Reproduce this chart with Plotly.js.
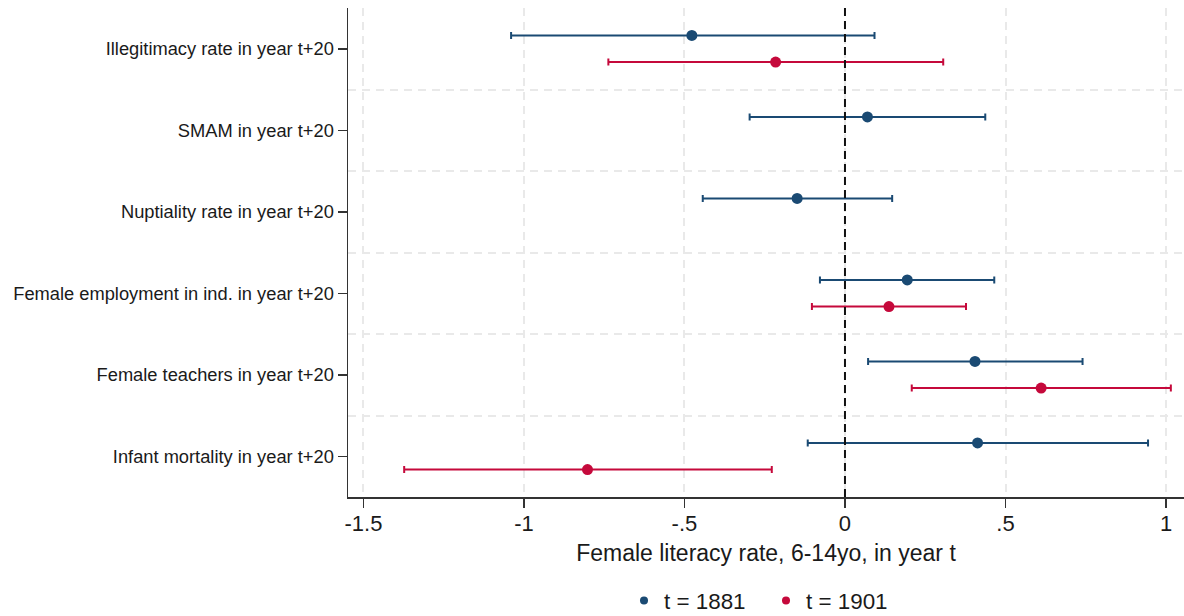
<!DOCTYPE html>
<html>
<head>
<meta charset="utf-8">
<script src="https://cdn.plot.ly/plotly-3.0.1.min.js"></script>
<style>html,body{margin:0;padding:0;background:#fff;}#chart{width:1184px;height:616px;}</style>
</head>
<body>
<div id="chart"></div>
<script>
// Outcome labels (top to bottom)
const outcomes = [
  "Illegitimacy rate in year t+20",
  "SMAM in year t+20",
  "Nuptiality rate in year t+20",
  "Female employment in ind. in year t+20",
  "Female teachers in year t+20",
  "Infant mortality in year t+20"
];
// t = 1881 estimates and 95% CI
const est1881 = [-0.477, 0.070, -0.149, 0.194, 0.405, 0.413];
const lo1881  = [-1.040, -0.297, -0.443, -0.078, 0.072, -0.116];
const hi1881  = [0.092, 0.437, 0.147, 0.465, 0.740, 0.944];
// t = 1901 estimates and 95% CI
const est1901 = [-0.216, null, null, 0.137, 0.611, -0.802];
const lo1901  = [-0.737, null, null, -0.103, 0.208, -1.373];
const hi1901  = [0.306, null, null, 0.377, 1.015, -0.228];
const xTickVals = [-1.5, -1, -0.5, 0, 0.5, 1];
const xTickText = ["-1.5", "-1", "-.5", "0", ".5", "1"];
const seriesNames = ["t = 1881", "t = 1901"];

const blue = "#1a4a73";
const red = "#c5093b";
const off = 0.163;
const rows = outcomes.map((_, i) => i);

function errTrace(est, lo, hi, dy, color, name) {
  return {
    type: "scatter", mode: "markers", name: name, showlegend: false,
    x: est, y: rows.map(r => r + dy),
    marker: {color: color, size: 11},
    error_x: {type: "data", symmetric: false,
      array: est.map((v, i) => v === null ? null : hi[i] - v),
      arrayminus: est.map((v, i) => v === null ? null : v - lo[i]),
      color: color, thickness: 2, width: 3.5},
    hoverinfo: "skip", cliponaxis: false
  };
}
function legTrace(color, name) {
  return {type: "scatter", mode: "markers", name: name, x: [null], y: [null],
    marker: {color: color, size: 8}, hoverinfo: "skip"};
}

const data = [
  errTrace(est1881, lo1881, hi1881, -off, blue, seriesNames[0]),
  errTrace(est1901, lo1901, hi1901, off, red, seriesNames[1]),
  legTrace(blue, seriesNames[0]),
  legTrace(red, seriesNames[1])
];

const fontFam = "Liberation Sans, Arial, sans-serif";
const gridc = "#e9e9e9";
const layout = {
  width: 1184, height: 616,
  margin: {l: 348, r: 0, t: 8, b: 119},
  paper_bgcolor: "#fff", plot_bgcolor: "#fff",
  font: {family: fontFam, color: "#1a1a1a"},
  showlegend: true,
  legend: {orientation: "h", xref: "paper", x: 0.5, xanchor: "center",
    yref: "container", y: 0.0244, yanchor: "middle",
    entrywidth: 97, entrywidthmode: "pixels",
    font: {size: 22.4, family: fontFam, color: "#1a1a1a"}, itemclick: false},
  xaxis: {
    range: [-1.548, 1.056], tickmode: "array", tickvals: xTickVals, ticktext: xTickText,
    showgrid: true, gridcolor: gridc, gridwidth: 2, griddash: "8px,6px",
    zeroline: false, showline: true, linecolor: "#333", linewidth: 1.5,
    ticks: "outside", ticklen: 9, tickwidth: 1.5, tickcolor: "#333",
    ticklabelstandoff: -3,
    tickfont: {size: 22, family: fontFam, color: "#1a1a1a"},
    title: {text: "Female literacy rate, 6-14yo, in year t", standoff: 10,
      font: {size: 23, family: fontFam, color: "#1a1a1a"}},
    automargin: false, fixedrange: true
  },
  yaxis: {
    range: [5.5, -0.5], tickmode: "array", tickvals: rows, ticktext: outcomes,
    showgrid: false, zeroline: false, showline: true, linecolor: "#333", linewidth: 1.5,
    ticks: "outside", ticklen: 9, tickwidth: 1.5, tickcolor: "#333",
    tickfont: {size: 18.3, family: fontFam, color: "#1a1a1a"},
    minor: {tickmode: "array", tickvals: [0.5, 1.5, 2.5, 3.5, 4.5], showgrid: true,
      gridcolor: gridc, gridwidth: 2, griddash: "8px,6px", ticks: ""},
    automargin: false, fixedrange: true
  },
  shapes: [{type: "line", xref: "x", yref: "paper", x0: 0, x1: 0, y0: 0, y1: 1,
    line: {color: "#111", width: 2, dash: "8px,5px"}, layer: "above"}]
};

Plotly.newPlot("chart", data, layout, {displayModeBar: false, staticPlot: true});
</script>
</body>
</html>
